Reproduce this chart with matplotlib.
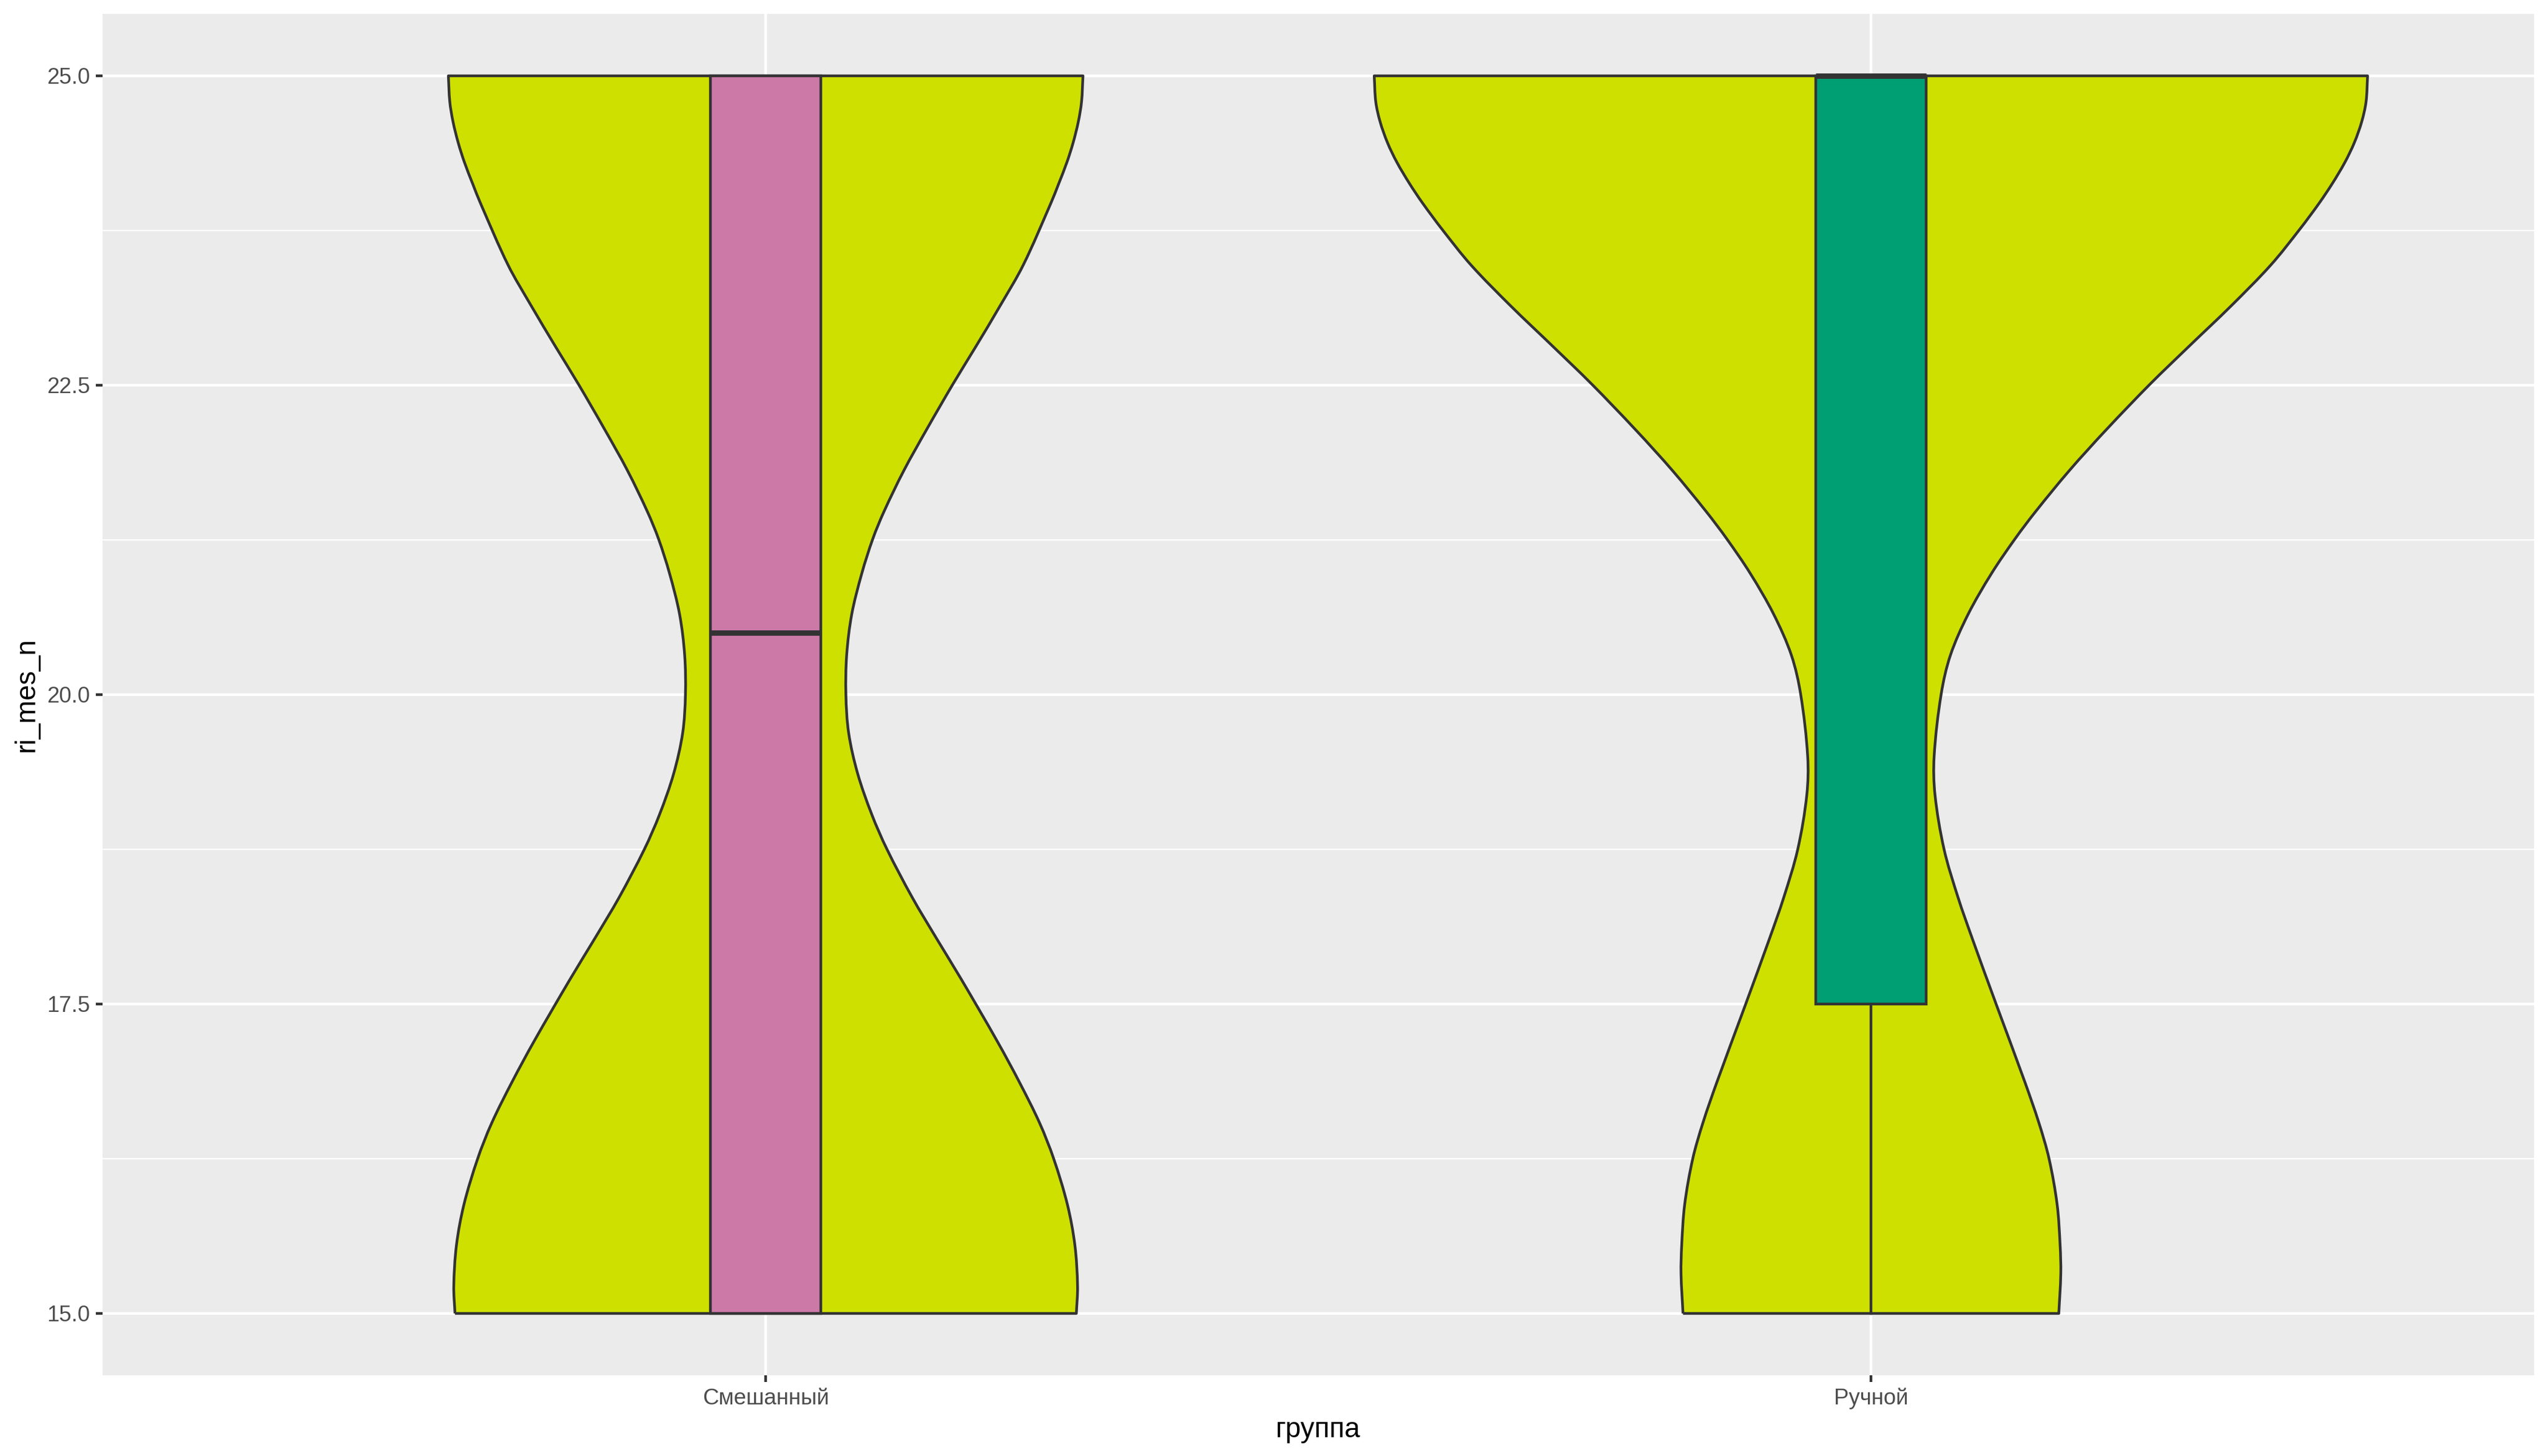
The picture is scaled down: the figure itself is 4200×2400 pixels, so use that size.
import numpy as np
import matplotlib
matplotlib.use("Agg")
import matplotlib.pyplot as plt
from matplotlib.path import Path
from matplotlib.patches import PathPatch, Rectangle

plt.rcParams["font.family"] = ["Liberation Sans", "DejaVu Sans"]

# ── data ────────────────────────────────────────────────────────────────────
groups = ["Смешанный", "Ручной"]

# violin half-widths (in x units) at a set of y levels
mixed_y = [25.00, 24.79, 24.63, 24.46, 24.30, 24.13, 23.97, 23.47, 23.14, 22.81,
           22.51, 22.14, 21.81, 21.48, 21.26, 20.98, 20.65, 20.32, 20.00, 19.69,
           19.36, 19.03, 18.75, 18.36, 18.03, 17.70, 17.20, 16.87, 16.54, 16.25,
           15.88, 15.55, 15.22, 15.00]
mixed_w = [0.2871, 0.2858, 0.2829, 0.2782, 0.2725, 0.2652, 0.2580, 0.2330, 0.2120, 0.1900,
           0.1695, 0.1455, 0.1250, 0.1071, 0.0970, 0.0870, 0.0779, 0.0733, 0.0726, 0.0751,
           0.0833, 0.0961, 0.1098, 0.1327, 0.1546, 0.1770, 0.2095, 0.2295, 0.2478, 0.2606,
           0.2730, 0.2798, 0.2822, 0.2811]

manual_y = [25.00, 24.79, 24.63, 24.46, 24.30, 24.13, 23.97, 23.76, 23.47, 23.14,
            22.81, 22.51, 22.14, 21.81, 21.48, 21.26, 20.98, 20.65, 20.32, 20.00,
            19.50, 19.19, 18.75, 18.36, 18.03, 17.49, 16.87, 16.54, 16.25, 15.88,
            15.55, 15.32, 15.00]
manual_w = [0.4494, 0.4480, 0.4441, 0.4374, 0.4288, 0.4175, 0.4055, 0.3880, 0.3617, 0.3258,
            0.2873, 0.2527, 0.2129, 0.1795, 0.1491, 0.1305, 0.1092, 0.0880, 0.0720, 0.0635,
            0.0572, 0.0580, 0.0662, 0.0789, 0.0917, 0.1137, 0.1393, 0.1520, 0.1612, 0.1685,
            0.1712, 0.1718, 0.1700]

# boxplot stats
box_lower = [15.0, 17.5]
box_median = [20.5, 25.0]
box_upper = [25.0, 25.0]
whisker_low = [15.0, 15.0]
whisker_high = [25.0, 25.0]
box_colors = ["#CC79A7", "#009E73"]

y_ticks = [15.0, 17.5, 20.0, 22.5, 25.0]
y_minor = [16.25, 18.75, 21.25, 23.75]

VIOLIN_FILL = "#CEE000"
LINE = "#333333"
LW = 1.07


def hermite_side(ys, xs):
    """x(y) through the read points as cubic bezier pieces (finite-difference slopes)."""
    ys = np.asarray(ys, float)
    xs = np.asarray(xs, float)
    n = len(ys)
    m = np.empty(n)
    m[0] = (xs[1] - xs[0]) / (ys[1] - ys[0])
    m[-1] = (xs[-1] - xs[-2]) / (ys[-1] - ys[-2])
    m[1:-1] = (xs[2:] - xs[:-2]) / (ys[2:] - ys[:-2])
    verts = [(xs[0], ys[0])]
    codes = [Path.MOVETO]
    for i in range(n - 1):
        h = ys[i + 1] - ys[i]
        verts += [(xs[i] + m[i] * h / 3, ys[i] + h / 3),
                  (xs[i + 1] - m[i + 1] * h / 3, ys[i + 1] - h / 3),
                  (xs[i + 1], ys[i + 1])]
        codes += [Path.CURVE4] * 3
    return verts, codes


def violin(ax, center, ys, ws):
    ys = np.asarray(ys)[::-1]   # ascending
    ws = np.asarray(ws)[::-1]
    lv, lc = hermite_side(ys, center - ws)
    rv, rc = hermite_side(ys[::-1], (center + ws)[::-1])
    verts = lv + rv + [lv[0]]
    codes = lc + [Path.LINETO] + rc[1:] + [Path.LINETO]
    ax.add_patch(PathPatch(Path(verts, codes), facecolor=VIOLIN_FILL,
                           edgecolor=LINE, lw=LW, joinstyle="round", zorder=2))


fig = plt.figure(figsize=(14, 8), dpi=300)
ax = fig.add_axes([169 / 4200, 1 - 2267 / 2400, (4177 - 169) / 4200, (2267 - 23) / 2400])
ax.set_facecolor("#EBEBEB")
for s in ax.spines.values():
    s.set_visible(False)

# grid
for y in y_minor:
    ax.axhline(y, color="white", lw=0.53, zorder=0)
for y in y_ticks:
    ax.axhline(y, color="white", lw=1.07, zorder=0)
for i in range(len(groups)):
    ax.axvline(i + 1, color="white", lw=1.07, zorder=0)

violin(ax, 1, mixed_y, mixed_w)
violin(ax, 2, manual_y, manual_w)

box_w = 0.1
for i in range(len(groups)):
    c = i + 1
    ax.plot([c, c], [whisker_low[i], box_lower[i]], color=LINE, lw=LW, zorder=3)
    ax.plot([c, c], [box_upper[i], whisker_high[i]], color=LINE, lw=LW, zorder=3)
    ax.add_patch(Rectangle((c - box_w / 2, box_lower[i]), box_w,
                           box_upper[i] - box_lower[i], facecolor=box_colors[i],
                           edgecolor=LINE, lw=LW, zorder=4))
    ax.plot([c - box_w / 2, c + box_w / 2], [box_median[i]] * 2, color=LINE,
            lw=2.13, solid_capstyle="butt", zorder=5)

ax.set_xlim(0.4, 2.6)
ax.set_ylim(14.5, 25.5)
ax.set_xticks([1, 2])
ax.set_xticklabels(groups)
ax.set_yticks(y_ticks)
ax.set_yticklabels([f"{v:.1f}" for v in y_ticks])
ax.tick_params(axis="both", length=2.75, width=1.07, color=LINE,
               labelcolor="#4D4D4D", labelsize=8.8, pad=2.2)

ax.set_xlabel("группа", fontsize=11, color="black", labelpad=2.75)
ax.set_ylabel("ri_mes_n", fontsize=11, color="black", labelpad=2.75)

fig.savefig("out.png", dpi=300)
